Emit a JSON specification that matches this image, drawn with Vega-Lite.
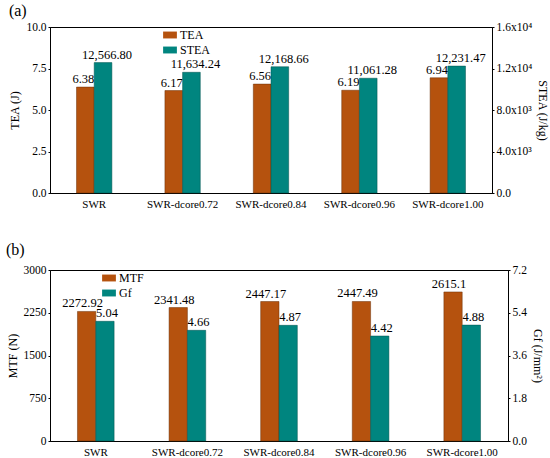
{
  "$schema": "https://vega.github.io/schema/vega-lite/v6.json",
  "background": "white",
  "padding": {"left": 5, "top": 2, "right": 5, "bottom": 5},
  "datasets": {
    "a": [
      {"cat": "SWR", "series": "TEA", "value": 6.38},
      {"cat": "SWR-dcore0.72", "series": "TEA", "value": 6.17},
      {"cat": "SWR-dcore0.84", "series": "TEA", "value": 6.56},
      {"cat": "SWR-dcore0.96", "series": "TEA", "value": 6.19},
      {"cat": "SWR-dcore1.00", "series": "TEA", "value": 6.94},
      {"cat": "SWR", "series": "STEA", "value": 12566.80},
      {"cat": "SWR-dcore0.72", "series": "STEA", "value": 11634.24},
      {"cat": "SWR-dcore0.84", "series": "STEA", "value": 12168.66},
      {"cat": "SWR-dcore0.96", "series": "STEA", "value": 11061.28},
      {"cat": "SWR-dcore1.00", "series": "STEA", "value": 12231.47}
    ],
    "b": [
      {"cat": "SWR", "series": "MTF", "value": 2272.92},
      {"cat": "SWR-dcore0.72", "series": "MTF", "value": 2341.48},
      {"cat": "SWR-dcore0.84", "series": "MTF", "value": 2447.17},
      {"cat": "SWR-dcore0.96", "series": "MTF", "value": 2447.49},
      {"cat": "SWR-dcore1.00", "series": "MTF", "value": 2615.1},
      {"cat": "SWR", "series": "Gf", "value": 5.04},
      {"cat": "SWR-dcore0.72", "series": "Gf", "value": 4.66},
      {"cat": "SWR-dcore0.84", "series": "Gf", "value": 4.87},
      {"cat": "SWR-dcore0.96", "series": "Gf", "value": 4.42},
      {"cat": "SWR-dcore1.00", "series": "Gf", "value": 4.88}
    ]
  },
  "config": {
    "font": "Liberation Serif",
    "view": {"stroke": "#000", "strokeWidth": 1},
    "axis": {
      "grid": false,
      "domainColor": "#000",
      "tickColor": "#000",
      "labelColor": "#000",
      "titleColor": "#000",
      "labelFont": "Liberation Serif",
      "titleFont": "Liberation Serif",
      "labelFontSize": 11.5,
      "titleFontSize": 12,
      "titleFontWeight": "normal",
      "tickSize": 2
    },
    "legend": {
      "labelFont": "Liberation Serif",
      "labelFontSize": 12,
      "labelColor": "#000",
      "symbolType": "M-1,-0.5L1,-0.5L1,0.5L-1,0.5Z",
      "symbolSize": 190,
      "symbolStrokeWidth": 0,
      "rowPadding": 2,
      "labelOffset": 3,
      "padding": 0
    },
    "title": {"font": "Liberation Serif", "fontSize": 16, "fontWeight": "normal", "color": "#000"}
  },
  "spacing": 31,
  "resolve": {
    "scale": {"color": "independent", "x": "independent", "xOffset": "independent", "y": "independent"},
    "legend": {"color": "independent"}
  },
  "vconcat": [
    {
      "title": {"text": "(a)", "anchor": "start", "frame": "bounds", "offset": 2},
      "width": 442,
      "height": 166,
      "data": {"name": "a"},
      "encoding": {
        "x": {
          "field": "cat", "type": "nominal", "sort": null,
          "scale": {"paddingInner": 0.6, "paddingOuter": 0.3},
          "axis": {"title": null, "labelAngle": 0, "ticks": false, "labelPadding": 5, "labelFontSize": 11}
        },
        "xOffset": {"field": "series", "type": "nominal", "scale": {"domain": ["TEA", "STEA"]}},
        "color": {
          "field": "series", "type": "nominal",
          "scale": {"domain": ["TEA", "STEA"], "range": ["#B5520E", "#00857F"]},
          "legend": {"title": null, "orient": "none", "legendX": 113, "legendY": 1}
        }
      },
      "layer": [
        {
          "transform": [{"filter": "datum.series == 'TEA'"}],
          "encoding": {
            "y": {
              "field": "value", "type": "quantitative",
              "scale": {"domain": [0, 10], "nice": false},
              "axis": {"title": "TEA (J)", "values": [0, 2.5, 5, 7.5, 10], "format": ".1f"}
            }
          },
          "layer": [
            {"mark": {"type": "bar", "stroke": "#6b3008", "strokeWidth": 0.5}},
            {
              "mark": {"type": "text", "baseline": "bottom", "dy": -1, "dx": -2, "fontSize": 12.5},
              "encoding": {"text": {"field": "value", "type": "quantitative", "format": ".2f"}, "color": {"value": "#000"}}
            }
          ]
        },
        {
          "transform": [{"filter": "datum.series == 'STEA'"}],
          "encoding": {
            "y": {
              "field": "value", "type": "quantitative",
              "scale": {"domain": [0, 16000], "nice": false},
              "axis": {
                "title": "STEA (J/kg)", "orient": "right",
                "values": [0, 4000, 8000, 12000, 16000],
                "labelExpr": "datum.value == 0 ? '0.0' : datum.value == 4000 ? '4.0x10³' : datum.value == 8000 ? '8.0x10³' : datum.value == 12000 ? '1.2x10⁴' : '1.6x10⁴'"
              }
            }
          },
          "layer": [
            {"mark": {"type": "bar", "stroke": "#00504c", "strokeWidth": 0.5}},
            {
              "mark": {"type": "text", "baseline": "bottom", "dy": -1, "dx": 4, "fontSize": 12.5},
              "encoding": {"text": {"field": "value", "type": "quantitative", "format": ",.2f"}, "color": {"value": "#000"}}
            }
          ]
        }
      ],
      "resolve": {"scale": {"y": "independent"}}
    },
    {
      "title": {"text": "(b)", "anchor": "start", "frame": "bounds", "offset": 6},
      "width": 458,
      "height": 171,
      "data": {"name": "b"},
      "encoding": {
        "x": {
          "field": "cat", "type": "nominal", "sort": null,
          "scale": {"paddingInner": 0.6, "paddingOuter": 0.3},
          "axis": {"title": null, "labelAngle": 0, "ticks": false, "labelPadding": 5, "labelFontSize": 11}
        },
        "xOffset": {"field": "series", "type": "nominal", "scale": {"domain": ["MTF", "Gf"]}},
        "color": {
          "field": "series", "type": "nominal",
          "scale": {"domain": ["MTF", "Gf"], "range": ["#B5520E", "#00857F"]},
          "legend": {"title": null, "orient": "none", "legendX": 52, "legendY": 1}
        }
      },
      "layer": [
        {
          "transform": [{"filter": "datum.series == 'MTF'"}],
          "encoding": {
            "y": {
              "field": "value", "type": "quantitative",
              "scale": {"domain": [0, 3000], "nice": false},
              "axis": {"title": "MTF (N)", "values": [0, 750, 1500, 2250, 3000], "format": "d"}
            }
          },
          "layer": [
            {"mark": {"type": "bar", "stroke": "#6b3008", "strokeWidth": 0.5}},
            {
              "mark": {"type": "text", "baseline": "bottom", "dy": -1, "dx": -4, "fontSize": 12.5},
              "encoding": {"text": {"field": "value", "type": "nominal"}, "color": {"value": "#000"}}
            }
          ]
        },
        {
          "transform": [{"filter": "datum.series == 'Gf'"}],
          "encoding": {
            "y": {
              "field": "value", "type": "quantitative",
              "scale": {"domain": [0, 7.2], "nice": false},
              "axis": {"title": "Gf (J/mm²)", "orient": "right", "values": [0, 1.8, 3.6, 5.4, 7.2], "format": ".1f"}
            }
          },
          "layer": [
            {"mark": {"type": "bar", "stroke": "#00504c", "strokeWidth": 0.5}},
            {
              "mark": {"type": "text", "baseline": "bottom", "dy": -1, "dx": 2, "fontSize": 12.5},
              "encoding": {"text": {"field": "value", "type": "quantitative", "format": ".2f"}, "color": {"value": "#000"}}
            }
          ]
        }
      ],
      "resolve": {"scale": {"y": "independent"}}
    }
  ]
}
